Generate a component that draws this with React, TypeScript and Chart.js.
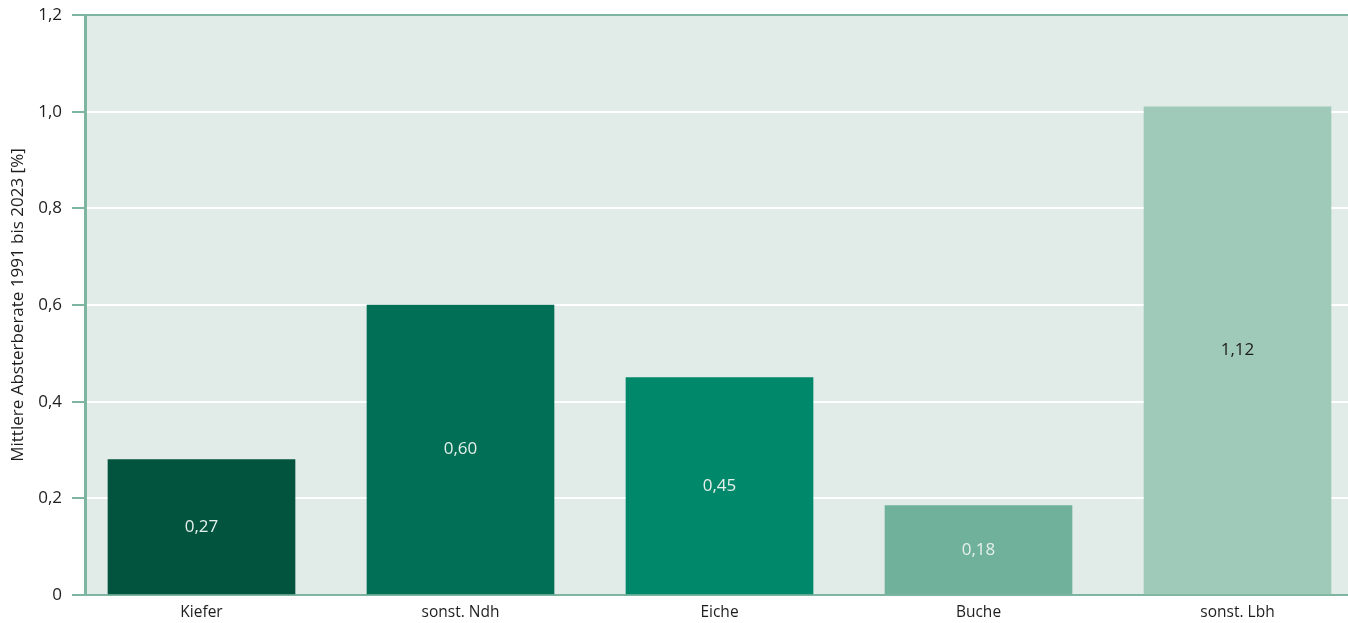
import React, { useEffect, useRef } from "react";
import { Chart, registerables } from "chart.js";

Chart.register(...registerables);

const categories = ["Kiefer", "sonst. Ndh", "Eiche", "Buche", "sonst. Lbh"];
// bar heights as drawn in the picture
const barValues = [0.28, 0.6, 0.45, 0.185, 1.01];
// value labels printed in the bars
const labelTexts = ["0,27", "0,60", "0,45", "0,18", "1,12"];
const barColors = ["#02543f", "#006f55", "#00886a", "#70b19b", "#9fc9b8"];
const labelColors = ["#e6f0eb", "#e6f0eb", "#e6f0eb", "#e6f0eb", "#1d1d1d"];
const yTicks = [0, 0.2, 0.4, 0.6, 0.8, 1.0, 1.2];
const yTitle = "Mittlere Absterberate 1991 bis 2023 [%]";

const GREEN = "#7db5a1";
const FONT = "'Open Sans', 'Noto Sans', sans-serif";

export default function App() {
  const ref = useRef<HTMLCanvasElement | null>(null);

  useEffect(() => {
    document.body.style.margin = "0";
    const canvas = ref.current;
    if (!canvas) return;

    const bgPlugin = {
      id: "plotBg",
      beforeDraw(chart: any) {
        const { ctx, chartArea } = chart;
        ctx.save();
        ctx.fillStyle = "#e1ebe7";
        ctx.fillRect(chartArea.left, chartArea.top, chartArea.right - chartArea.left, chartArea.bottom - chartArea.top);
        ctx.restore();
      },
    };

    const labelPlugin = {
      id: "barLabels",
      afterDatasetsDraw(chart: any) {
        const ctx = chart.ctx;
        const meta = chart.getDatasetMeta(0);
        ctx.save();
        ctx.font = `17px ${FONT}`;
        ctx.textAlign = "center";
        ctx.textBaseline = "middle";
        meta.data.forEach((bar: any, i: number) => {
          const { x, y, base } = bar.getProps(["x", "y", "base"], true);
          ctx.fillStyle = labelColors[i];
          ctx.fillText(labelTexts[i], x, (y + base) / 2);
        });
        ctx.restore();
      },
    };

    const chart = new Chart(canvas, {
      type: "bar",
      data: {
        datasets: [
          {
            data: categories.map((_, i) => ({ x: i, y: barValues[i] })),
            backgroundColor: barColors,
            borderWidth: 0,
            barThickness: 187,
          },
        ],
      },
      options: {
        animation: false,
        responsive: true,
        maintainAspectRatio: false,
        layout: { padding: { top: 15, right: 0, left: 0, bottom: 0 } },
        plugins: {
          legend: { display: false },
          tooltip: { enabled: false },
        },
        scales: {
          x: {
            type: "linear",
            offset: false,
            bounds: "data",
            min: -0.4498,
            max: 4.4266,
            grid: { display: false, drawTicks: false, offset: false, tickLength: 0 },
            border: { display: true, color: GREEN, width: 2 },
            afterBuildTicks: (scale: any) => {
              scale.ticks = categories.map((_, i) => ({ value: i }));
            },
            afterFit: (scale: any) => {
              scale.height = 28;
              scale.paddingLeft = 0;
              scale.paddingRight = 0;
            },
            ticks: {
              padding: 8,
              color: "#1e1e1e",
              font: { family: FONT, size: 15.5 },
              includeBounds: false,
              maxRotation: 0,
              callback: (v: any) => categories[Math.round(Number(v))] ?? "",
            },
          },
          y: {
            min: 0,
            max: 1.2,
            afterBuildTicks: (scale: any) => {
              scale.ticks = yTicks.map((v) => ({ value: v }));
            },
            afterFit: (scale: any) => {
              scale.width = 85;
              scale.paddingTop = 0;
              scale.paddingBottom = 0;
            },
            grid: {
              color: (c: any) => {
                const v = c.tick ? c.tick.value : 0;
                return v === 0 || v === 1.2 ? GREEN : "#ffffff";
              },
              lineWidth: 2,
              tickColor: GREEN,
              tickLength: 13,
            },
            border: { display: true, color: GREEN, width: 3 },
            ticks: {
              padding: 10,
              color: "#1e1e1e",
              font: { family: FONT, size: 17 },
              callback: (v: any) => (Number(v) === 0 ? "0" : Number(v).toFixed(1).replace(".", ",")),
            },
            title: {
              display: true,
              text: yTitle,
              color: "#1e1e1e",
              font: { family: FONT, size: 17 },
              padding: { top: 8, bottom: 0 },
            },
          },
        },
      },
      plugins: [bgPlugin, labelPlugin],
    });

    return () => chart.destroy();
  }, []);

  return (
    <div style={{ width: 1348, height: 623, position: "relative" }}>
      <canvas ref={ref} />
    </div>
  );
}
